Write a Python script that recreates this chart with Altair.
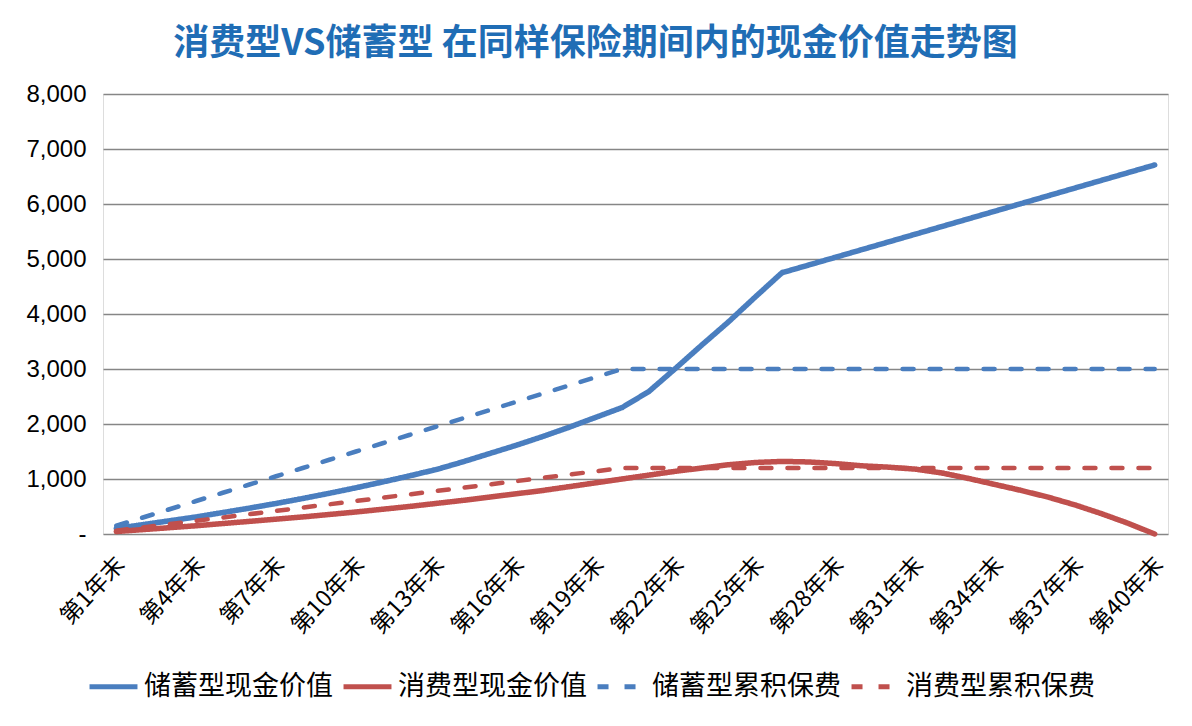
import altair as alt
import pandas as pd

years = [f"第{i}年末" for i in range(1, 41)]

savings_cv = [100, 170, 240, 310, 390, 470, 555, 645, 740, 840,
              945, 1055, 1170, 1310, 1460, 1610, 1770, 1940, 2120, 2300,
              2590, 3010, 3440, 3860, 4310, 4750, 4890, 5030, 5170, 5310,
              5450, 5590, 5730, 5870, 6010, 6150, 6290, 6430, 6570, 6710]
consumer_cv = [45, 80, 115, 150, 190, 230, 270, 310, 355, 400,
               450, 500, 555, 610, 670, 730, 790, 860, 930, 1000,
               1070, 1140, 1200, 1260, 1300, 1320, 1310, 1280, 1240, 1215,
               1180, 1110, 1010, 900, 790, 670, 530, 370, 195, 0]
savings_prem = [150, 300, 450, 600, 750, 900, 1050, 1200, 1350, 1500,
                1650, 1800, 1950, 2100, 2250, 2400, 2550, 2700, 2850, 3000,
                3000, 3000, 3000, 3000, 3000, 3000, 3000, 3000, 3000, 3000,
                3000, 3000, 3000, 3000, 3000, 3000, 3000, 3000, 3000, 3000]
consumer_prem = [60, 120, 180, 240, 300, 360, 420, 480, 540, 600,
                 660, 720, 780, 840, 900, 960, 1020, 1080, 1140, 1200,
                 1200, 1200, 1200, 1200, 1200, 1200, 1200, 1200, 1200, 1200,
                 1200, 1200, 1200, 1200, 1200, 1200, 1200, 1200, 1200, 1200]

series_names = ["储蓄型现金价值", "消费型现金价值", "储蓄型累积保费", "消费型累积保费"]
series_colors = ["#4A7EBF", "#C0504D", "#4A7EBF", "#C0504D"]
series_dash = [[1, 0], [1, 0], [11, 16], [11, 16]]
solid_names = series_names[:2]
dashed_names = series_names[2:]
tick_years = [years[i] for i in range(0, 40, 3)]

rows = []
for name, vals in zip(series_names, [savings_cv, consumer_cv, savings_prem, consumer_prem]):
    for y, v in zip(years, vals):
        rows.append({"year": y, "value": v, "series": name})
df = pd.DataFrame(rows)

FONT = "Noto Sans CJK SC"

legend = alt.Legend(
    title=None, orient="none", direction="horizontal",
    legendX=-16, legendY=566,
    symbolType="stroke", symbolSize=2300, symbolStrokeWidth=5,
    labelFontSize=27, labelFont=FONT, labelColor="#000000",
    labelOffset=4, columnPadding=0, labelLimit=400,
)

x_enc = alt.X("year:N", sort=years,
              scale=alt.Scale(type="point", padding=0.5),
              axis=alt.Axis(title=None, values=tick_years, labelAngle=-47,
                            labelAlign="right", labelBaseline="top",
                            labelPadding=19, labelOffset=-4,
                            labelFontSize=23, labelFont=FONT, labelColor="#000000",
                            domain=False, ticks=False, grid=False,
                            labelOverlap=False))
y_enc = alt.Y("value:Q", scale=alt.Scale(domain=[0, 8000], nice=False),
              axis=alt.Axis(title=None, values=list(range(0, 8001, 1000)),
                            labelExpr="datum.value == 0 ? '-' : format(datum.value, ',')",
                            labelFontSize=24, labelFont="Liberation Sans",
                            labelColor="#000000", labelPadding=17,
                            domain=False, ticks=False,
                            grid=True, gridColor="#868686", gridWidth=1.5))
color_enc = alt.Color("series:N", sort=series_names,
                      scale=alt.Scale(domain=series_names, range=series_colors),
                      legend=legend)
dash_enc = alt.StrokeDash("series:N", sort=series_names,
                          scale=alt.Scale(domain=series_names, range=series_dash),
                          legend=legend)

base = alt.Chart(df).encode(x=x_enc, y=y_enc, color=color_enc, strokeDash=dash_enc)

solid = base.transform_filter(
    alt.FieldOneOfPredicate(field="series", oneOf=solid_names)
).mark_line(strokeWidth=5.5, strokeCap="round", strokeJoin="round")

dashed = base.transform_filter(
    alt.FieldOneOfPredicate(field="series", oneOf=dashed_names)
).mark_line(strokeWidth=4.5, strokeCap="round", strokeJoin="round")

chart = alt.layer(solid, dashed).properties(
    width=1065, height=440,
    title=alt.TitleParams(
        text="消费型VS储蓄型 在同样保险期间内的现金价值走势图",
        fontSize=36, font=FONT, fontWeight="bold", color="#1F6DB5",
        anchor="middle", frame="group", dx=-40, offset=19,
    ),
    autosize=alt.AutoSizeParams(type="none"),
    padding={"left": 95, "top": 86, "right": 16, "bottom": 184},
).configure_view(stroke=None).configure(background="#ffffff")

chart.save("out.html", embed_options={"renderer": "svg", "actions": False})
